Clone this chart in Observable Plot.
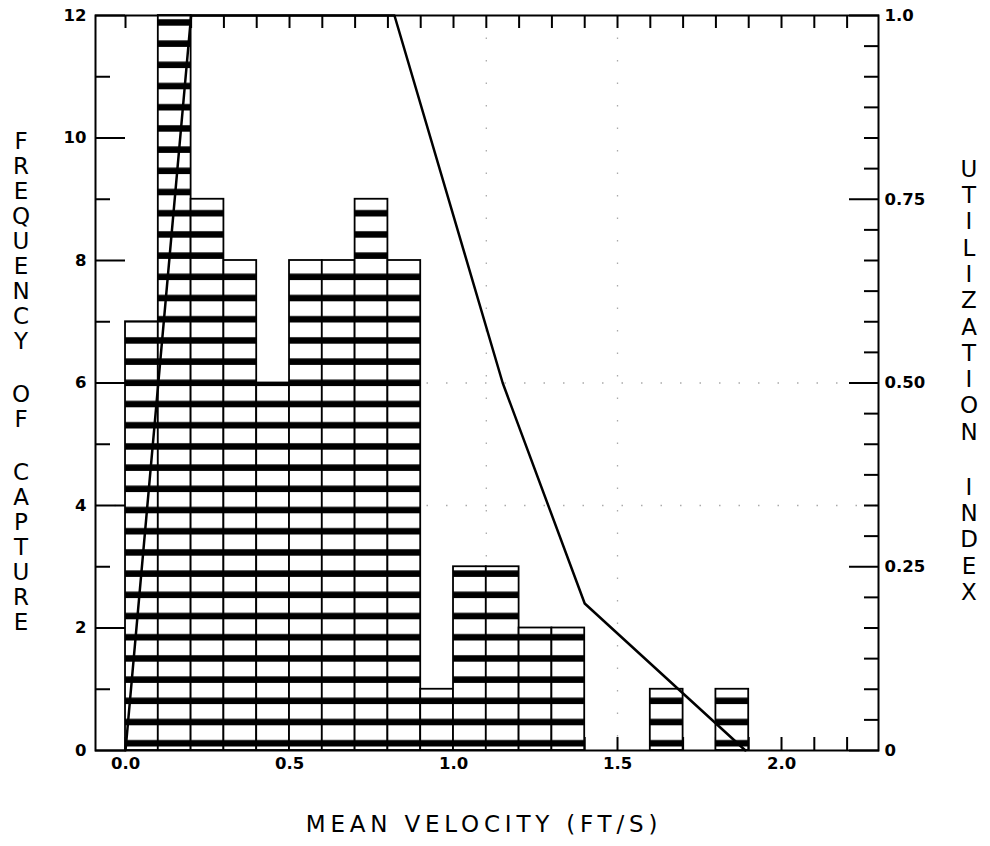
<!DOCTYPE html>
<html><head><meta charset="utf-8">
<script src="https://cdn.jsdelivr.net/npm/d3@7"></script>
<script src="https://cdn.jsdelivr.net/npm/@observablehq/plot@0.6"></script>
<style>
body{margin:0;background:#fff;}
#wrap{position:relative;width:990px;height:846px;overflow:hidden;}
.vt{position:absolute;font-family:"DejaVu Sans",sans-serif;font-size:23px;text-align:center;width:40px;color:#000;}
.vt div{height:25px;line-height:25px;}
.xt{position:absolute;left:0;width:968px;text-align:center;font-family:"DejaVu Sans",sans-serif;font-size:23px;line-height:23px;letter-spacing:4.8px;color:#000;}
</style></head><body><div id="wrap"></div>
<script>
// ---- data ----
const binStart = [0.0,0.1,0.2,0.3,0.4,0.5,0.6,0.7,0.8,0.9,1.0,1.1,1.2,1.3,1.4,1.5,1.6,1.7,1.8];
const counts   = [7,  12,  9,  8,  6,  8,  8,  9,  8,  1,  3,  3,  2,  2,  0,  0,  1,  0,  1];
const binWidth = 0.1;

const utilVelocity = [0.0, 0.2, 0.82, 1.15, 1.4, 1.89];
const utilIndex    = [0.0, 1.0, 1.0,  0.5,  0.2, 0.0];

const freqMajorTicks = [0,2,4,6,8,10,12];
const freqMajorText  = ["0","2","4","6","8","10","12"];
const freqMinorTicks = [1,3,5,7,9,11];
const utilMax = 1.0;          // right axis top corresponds to freq 12
const freqMax = 12;
const utilLabelTicks = [0, 0.25, 0.5, 0.75, 1.0];
const utilLabelText  = ["0", "0.25", "0.50", "0.75", "1.0"];
const utilMinorTicks = [1/24,2/24,3/24,4/24,5/24,7/24,8/24,9/24,10/24,11/24,13/24,14/24,15/24,16/24,17/24,19/24,20/24,21/24,22/24,23/24];
const velLabelTicks = [0, 0.5, 1.0, 1.5, 2.0];
const velLabelText  = ["0.0", "0.5", "1.0", "1.5", "2.0"];
const velMinorTicks = [0,0.1,0.2,0.3,0.4,0.5,0.6,0.7,0.8,0.9,1.0,1.1,1.2,1.3,1.4,1.5,1.6,1.7,1.8,1.9,2.0,2.1,2.2];
const gridFreq = [4, 6];
const gridVel = [1.1, 1.5];

const xTitle = "MEAN VELOCITY (FT/S)";
const yTitle = "FREQUENCY OF CAPTURE";
const y2Title = "UTILIZATION INDEX";

// ---- tables ----
const bars = binStart.map((s, i) => ({x0: s, x1: s + binWidth, count: counts[i]})).filter(d => d.count > 0);
const k = freqMax / utilMax;
const util = utilVelocity.map((v, i) => ({v, u: utilIndex[i] * k}));
const utilLabelMap = new Map(utilLabelTicks.map((t, i) => [t * k, utilLabelText[i]]));
const velLabelMap = new Map(velLabelTicks.map((t, i) => [t, velLabelText[i]]));
const freqLabelMap = new Map(freqMajorTicks.map((t, i) => [t, freqMajorText[i]]));

const font = {fontFamily: "DejaVu Sans", fontWeight: "bold", fontSize: 16.5};

const chart = Plot.plot({
  width: 990, height: 846,
  marginLeft: 95, marginRight: 112, marginTop: 15, marginBottom: 96,
  style: {fontFamily: "DejaVu Sans", background: "white", color: "black"},
  x: {domain: [-0.0915, 2.2957], label: null},
  y: {domain: [0, 12], label: null},
  marks: [
    Plot.ruleY(gridFreq, {stroke: "#aaa", strokeWidth: 1.3, strokeDasharray: "1.5,18"}),
    Plot.ruleX(gridVel, {stroke: "#aaa", strokeWidth: 1.3, strokeDasharray: "1.5,21"}),
    // left axis
    Plot.axisY(freqMajorTicks, {anchor: "left", tickSize: -30, tickPadding: 39, strokeWidth: 2, tickFormat: d => freqLabelMap.get(d), label: null, ...font}),
    Plot.axisY(freqMinorTicks, {anchor: "left", tickSize: -15, strokeWidth: 2, tickFormat: () => "", label: null}),
    // right axis
    Plot.axisY(utilLabelTicks.map(t => t * k), {anchor: "right", tickSize: -30, tickPadding: 36, strokeWidth: 2, tickFormat: d => utilLabelMap.get(d), label: null, ...font}),
    Plot.axisY(utilMinorTicks.map(t => t * k), {anchor: "right", tickSize: -15, strokeWidth: 2, tickFormat: () => "", label: null}),
    // bottom axis
    Plot.axisX(velMinorTicks, {anchor: "bottom", tickSize: -13, strokeWidth: 2, tickFormat: () => "", label: null}),
    Plot.axisX(velLabelTicks, {anchor: "bottom", tickSize: 0, tickPadding: 7, tickFormat: d => velLabelMap.get(d), label: null, ...font}),
    // top axis
    Plot.axisX(velMinorTicks, {anchor: "top", tickSize: -12, strokeWidth: 2, tickFormat: () => "", label: null}),
    // bars
    Plot.rect(bars, {x1: "x0", x2: "x1", y1: 0, y2: "count", fill: "url(#hatch)", stroke: "black", strokeWidth: 1.8}),
    // utilization line
    Plot.line(util, {x: "v", y: "u", stroke: "black", strokeWidth: 2.5}),
    Plot.frame({stroke: "black", strokeWidth: 2})
  ]
});

d3.select(chart).insert("defs", ":first-child").html(
  '<pattern id="hatch" patternUnits="userSpaceOnUse" x="0" y="4.5" width="8" height="21.2">' +
  '<rect width="8" height="21.2" fill="white"/><rect y="14.7" width="8" height="7" fill="black"/></pattern>');

const wrap = document.getElementById("wrap");
wrap.appendChild(chart);
chart.style.position = "absolute"; chart.style.left = "0"; chart.style.top = "0";

function vertical(text, left, top, pitch, spaceH) {
  const el = document.createElement("div");
  el.className = "vt";
  el.style.left = left + "px"; el.style.top = top + "px";
  for (const ch of text) {
    const d = document.createElement("div");
    if (ch === " ") { d.style.height = spaceH + "px"; }
    else { d.textContent = ch; d.style.height = pitch + "px"; d.style.lineHeight = pitch + "px"; }
    el.appendChild(d);
  }
  wrap.appendChild(el);
}
vertical(yTitle, 21 - 20, 141 - 12.5, 25, 28);
vertical(y2Title, 969 - 20, 169 - 13.2, 26.3, 28.7);

const xt = document.createElement("div");
xt.className = "xt"; xt.textContent = xTitle; xt.style.top = "813px";
wrap.appendChild(xt);
</script></body></html>
